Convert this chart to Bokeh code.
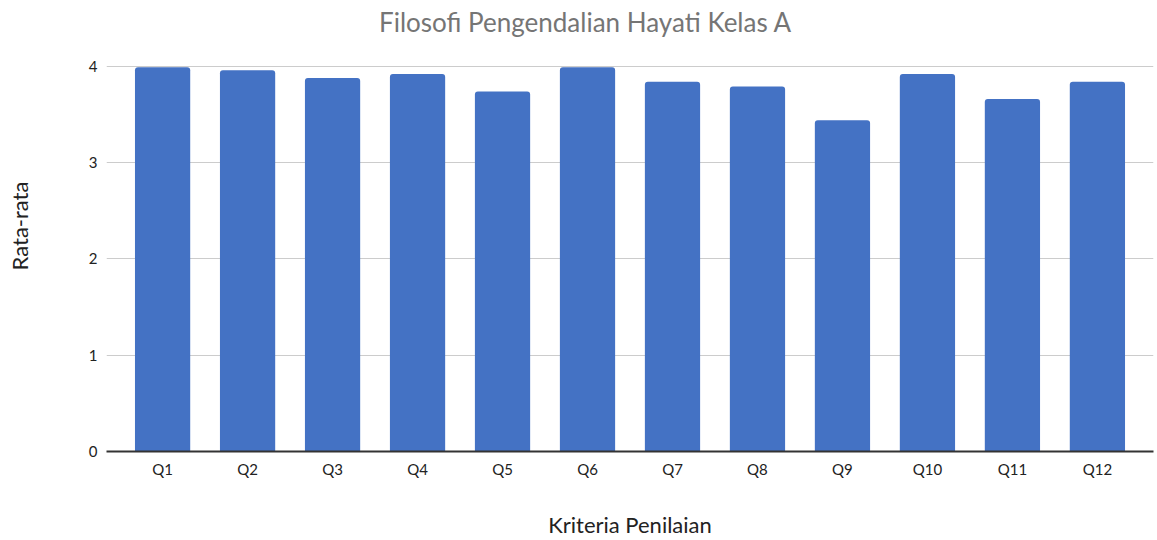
from bokeh.plotting import figure
from bokeh.models import FactorRange, Range1d, Label, FixedTicker, ColumnDataSource
from bokeh.embed import file_html
from bokeh.resources import INLINE

categories = ["Q1", "Q2", "Q3", "Q4", "Q5", "Q6", "Q7", "Q8", "Q9", "Q10", "Q11", "Q12"]
values = [3.99, 3.96, 3.88, 3.92, 3.74, 3.99, 3.84, 3.79, 3.44, 3.92, 3.66, 3.84]
y_ticks = [0, 1, 2, 3, 4]
title_text = "Filosofi Pengendalian Hayati Kelas A"
x_title = "Kriteria Penilaian"
y_title = "Rata-rata"

FONT = "Lato"

src = ColumnDataSource(data=dict(cat=categories, val=values))

# frame spans the full height above the x axis; headroom above 4 holds the title
p = figure(
    width=1157, height=540, title=None,
    x_range=FactorRange(factors=categories, range_padding=0.16, range_padding_units="absolute"),
    y_range=Range1d(0, 4.684),
    output_backend="svg", toolbar_location=None,
    min_border_left=106, min_border_right=4, min_border_top=0, min_border_bottom=88,
)
p.outline_line_color = None
p.background_fill_color = "white"
p.border_fill_color = "white"

p.vbar(x="cat", top="val", width=0.65, source=src, fill_color="#4472C4",
       line_color=None, border_radius=(3, 3, 0, 0))

# grid
p.xgrid.grid_line_color = None
p.ygrid.grid_line_color = "#cccccc"
p.ygrid.grid_line_width = 1
p.yaxis.ticker = FixedTicker(ticks=y_ticks)

# y axis
p.yaxis.axis_line_color = None
p.yaxis.major_tick_line_color = None
p.yaxis.minor_tick_line_color = None
p.yaxis.major_tick_out = 0
p.yaxis.major_tick_in = 0
p.yaxis.minor_tick_out = 0
p.yaxis.major_label_standoff = 9
p.yaxis.major_label_text_font = FONT
p.yaxis.major_label_text_font_size = "15px"
p.yaxis.major_label_text_color = "#222222"
p.yaxis.axis_label = y_title
p.yaxis.axis_label_text_font = FONT
p.yaxis.axis_label_text_font_size = "22px"
p.yaxis.axis_label_text_font_style = "normal"
p.yaxis.axis_label_text_color = "#222222"
p.yaxis.axis_label_standoff = 53

# x axis
p.xaxis.axis_line_color = "#333333"
p.xaxis.axis_line_width = 2
p.xaxis.major_tick_line_color = None
p.xaxis.minor_tick_line_color = None
p.xaxis.major_tick_out = 0
p.xaxis.major_tick_in = 0
p.xaxis.minor_tick_out = 0
p.xaxis.major_label_standoff = 8
p.xaxis.major_label_text_font = FONT
p.xaxis.major_label_text_font_size = "15px"
p.xaxis.major_label_text_color = "#222222"
p.xaxis.axis_label = x_title
p.xaxis.axis_label_text_font = FONT
p.xaxis.axis_label_text_font_size = "22px"
p.xaxis.axis_label_text_font_style = "normal"
p.xaxis.axis_label_text_color = "#222222"
p.xaxis.axis_label_standoff = 30

# chart title, centered over the whole chart (screen units relative to the frame)
p.add_layout(Label(x=479, y=430, x_units="screen", y_units="screen", text=title_text,
                   text_align="center", text_baseline="alphabetic",
                   text_font=FONT, text_font_size="26px", text_color="#757575"))

open("out.html", "w").write(file_html(p, INLINE))
